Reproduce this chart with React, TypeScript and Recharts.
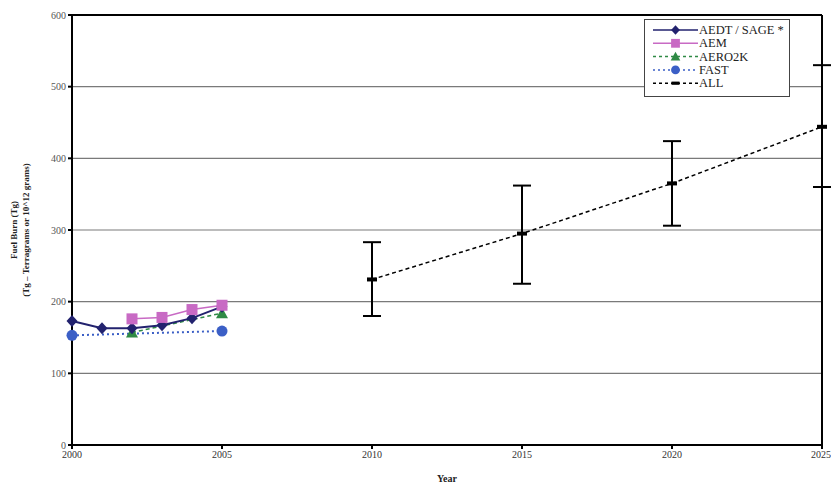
import React from 'react';
import {
  LineChart, Line, XAxis, YAxis, CartesianGrid, ErrorBar, ReferenceLine,
} from 'recharts';

const years = [2000, 2001, 2002, 2003, 2004, 2005, 2010, 2015, 2020, 2025];
const aedt = [173, 163, 163, 167, 177, 193, null, null, null, null];
const aem = [null, null, 176, 178, 189, 195, null, null, null, null];
const aero2k = [null, null, 157, null, null, 184, null, null, null, null];
const fast = [153, null, null, null, null, 159, null, null, null, null];
const all = [null, null, null, null, null, null, 231, 295, 365, 444];
const allLow = [null, null, null, null, null, null, 180, 225, 306, 360];
const allHigh = [null, null, null, null, null, null, 283, 362, 424, 530];

const xTicks = [2000, 2005, 2010, 2015, 2020, 2025];
const yTicks = [0, 100, 200, 300, 400, 500, 600];

const data = years.map((year, i) => ({
  year,
  aedt: aedt[i],
  aem: aem[i],
  aero2k: aero2k[i],
  fast: fast[i],
  all: all[i],
  allErr: all[i] == null ? null : [all[i]! - allLow[i]!, allHigh[i]! - all[i]!],
}));

const FONT = '"Liberation Serif", "Times New Roman", serif';

const NAVY = '#22226e';
const PINK = '#c86ac4';
const GREEN = '#2f8a45';
const BLUE = '#3b5fc6';

function Diamond({ cx, cy, fill }: any) {
  if (cx == null || cy == null) return null;
  return <polygon points={`${cx},${cy - 6} ${cx + 5.5},${cy} ${cx},${cy + 6} ${cx - 5.5},${cy}`} fill={fill} />;
}
function Square({ cx, cy, fill }: any) {
  if (cx == null || cy == null) return null;
  return <rect x={cx - 5.5} y={cy - 5.5} width={11} height={11} fill={fill} />;
}
function Triangle({ cx, cy, fill }: any) {
  if (cx == null || cy == null) return null;
  return <polygon points={`${cx},${cy - 6} ${cx + 6},${cy + 5} ${cx - 6},${cy + 5}`} fill={fill} />;
}
function Circle({ cx, cy, fill }: any) {
  if (cx == null || cy == null) return null;
  return <circle cx={cx} cy={cy} r={5.5} fill={fill} />;
}
function Dash({ cx, cy }: any) {
  if (cx == null || cy == null) return null;
  return <rect x={cx - 5} y={cy - 2} width={10} height={4} fill="#000" />;
}

const legendItems = [
  { name: 'AEDT / SAGE *', color: NAVY, dash: undefined, Marker: Diamond },
  { name: 'AEM', color: PINK, dash: undefined, Marker: Square },
  { name: 'AERO2K', color: GREEN, dash: '3 3', Marker: Triangle },
  { name: 'FAST', color: BLUE, dash: '2 3', Marker: Circle },
  { name: 'ALL', color: '#000', dash: '3 3', Marker: Dash },
];

function LegendBox() {
  return (
    <svg width={146} height={78} style={{ display: 'block' }}>
      <rect x={0.5} y={0.5} width={145} height={77} fill="#fff" stroke="#444" strokeWidth={1} />
      {legendItems.map((it, i) => {
        const y = 11 + i * 13.3;
        const M = it.Marker;
        return (
          <g key={it.name}>
            <line x1={9} x2={54} y1={y} y2={y} stroke={it.color} strokeWidth={1.5} strokeDasharray={it.dash} />
            <g transform={`translate(31.5, ${y}) scale(0.8) translate(-31.5, ${-y})`}>
              <M cx={31.5} cy={y} fill={it.color} />
            </g>
            <text x={55} y={y + 4} fontFamily={FONT} fontSize={12.5} fill="#222">{it.name}</text>
          </g>
        );
      })}
    </svg>
  );
}

function YLabel() {
  return (
    <g>
      <text transform="translate(17, 230) rotate(-90)" textAnchor="middle" fontFamily={FONT} fontSize={9} fontWeight="bold" fill="#222">
        Fuel Burn (Tg)
      </text>
      <text transform="translate(29, 230) rotate(-90)" textAnchor="middle" fontFamily={FONT} fontSize={9} fontWeight="bold" fill="#222">
        (Tg – Terragrams or 10^12 grams)
      </text>
    </g>
  );
}

export default function App() {
  return (
    <div style={{ position: 'absolute', left: 0, top: 0, width: 831, height: 486, background: '#fff' }}>
      <LineChart width={831} height={486} data={data} margin={{ top: 15, right: 9, bottom: 22, left: 0 }}>
        <CartesianGrid horizontal vertical={false} stroke="#7a7a7a" strokeWidth={1.2} />
        <XAxis
          dataKey="year"
          type="number"
          domain={[2000, 2025]}
          ticks={xTicks}
          height={19}
          stroke="#000"
          strokeWidth={2}
          tickSize={4}
          tick={{ fontFamily: FONT, fontSize: 10, fill: '#333' }}
          label={{ value: 'Year', position: 'bottom', offset: 11, fontFamily: FONT, fontSize: 10, fontWeight: 'bold', fill: '#222' }}
        />
        <YAxis
          type="number"
          domain={[0, 600]}
          ticks={yTicks}
          width={72}
          stroke="#000"
          strokeWidth={2}
          tickSize={4}
          tick={{ fontFamily: FONT, fontSize: 10, fill: '#555' }}
          label={{ content: () => <YLabel /> }}
        />
        <ReferenceLine y={600} stroke="#000" strokeWidth={2} />
        <ReferenceLine x={2025} stroke="#000" strokeWidth={2} />
        <Line dataKey="fast" stroke={BLUE} strokeWidth={2} strokeDasharray="2 3" connectNulls dot={<Circle fill={BLUE} />} isAnimationActive={false} />
        <Line dataKey="aero2k" stroke={GREEN} strokeWidth={1.5} strokeDasharray="4 3" connectNulls dot={<Triangle fill={GREEN} />} isAnimationActive={false} />
        <Line dataKey="aedt" stroke={NAVY} strokeWidth={2} dot={<Diamond fill={NAVY} />} isAnimationActive={false} />
        <Line dataKey="aem" stroke={PINK} strokeWidth={1.5} dot={<Square fill={PINK} />} isAnimationActive={false} />
        <Line dataKey="all" stroke="#000" strokeWidth={1.5} strokeDasharray="4 3" dot={<Dash />} isAnimationActive={false}>
          <ErrorBar dataKey="allErr" direction="y" width={9} stroke="#000" strokeWidth={2} />
        </Line>
      </LineChart>
      <div style={{ position: 'absolute', left: 644, top: 19 }}>
        <LegendBox />
      </div>
    </div>
  );
}
